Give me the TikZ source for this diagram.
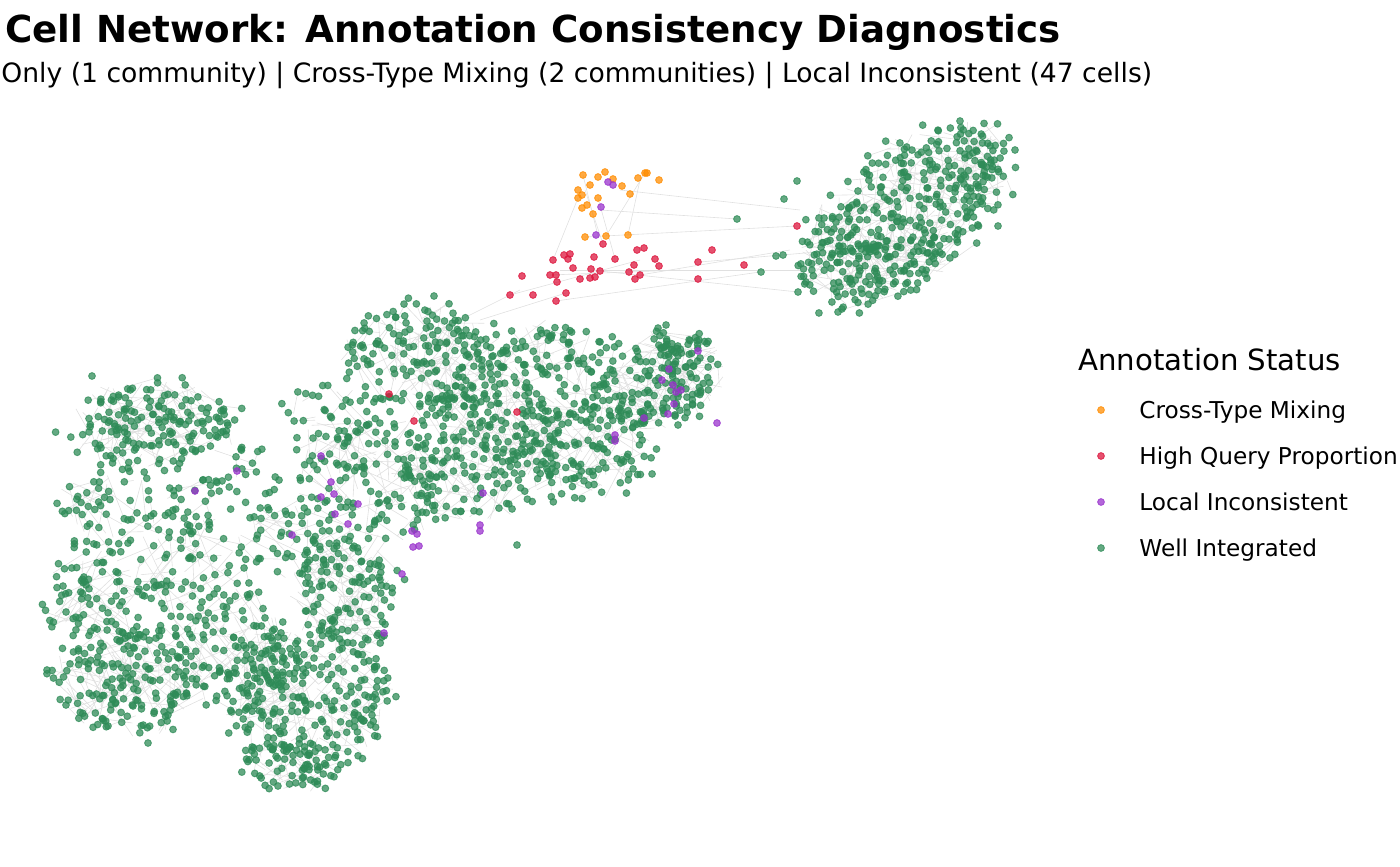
\documentclass[tikz,border=0pt]{standalone}
\usepackage{fontspec}
\setmainfont{DejaVu Sans}
\definecolor{cmix}{HTML}{FF8C00}
\definecolor{chqp}{HTML}{DC143C}
\definecolor{cloc}{HTML}{9932CC}
\definecolor{cwell}{HTML}{2E8B57}
\tikzset{
  edge/.style={draw=black!12, line width=0.3pt},
  cell/.style={fill=#1, draw=#1, line width=0.45pt, opacity=0.74},
  wi/.style={cell=cwell},
  mx/.style={cell=cmix},
  hq/.style={cell=chqp},
  li/.style={cell=cloc},
  legtxt/.style={anchor=base west, font=\fontsize{11.6pt}{13pt}\selectfont, inner sep=0pt},
}
% #7 = 0 : edges only, 1 : points only
\newcommand\blob[7]{%
  \foreach \i in {1,...,#6}{%
    \pgfmathsetmacro\bR{sqrt(rnd)*(0.8+0.36*rnd)}%
    \pgfmathsetmacro\bT{360*rnd}%
    \pgfmathsetmacro\bDX{\bR*#3*cos(\bT)}%
    \pgfmathsetmacro\bDY{\bR*#4*sin(\bT)}%
    \pgfmathsetmacro\bX{#1+\bDX*cos(#5)-\bDY*sin(#5)}%
    \pgfmathsetmacro\bY{#2+\bDX*sin(#5)+\bDY*cos(#5)}%
    \pgfmathsetmacro\bLX{\bDX+50*rand}%
    \pgfmathsetmacro\bLY{\bDY+50*rand}%
    \ifnum#7=0
      \pgfmathsetmacro\bIn{(\bLX/#3)^2+(\bLY/#4)^2}%
      \pgfmathsetmacro\bEX{#1+\bLX*cos(#5)-\bLY*sin(#5)}%
      \pgfmathsetmacro\bEY{#2+\bLX*sin(#5)+\bLY*cos(#5)}%
      \ifdim\bIn pt<1.1pt
        \draw[edge] (\bX,\bY) -- (\bEX,\bEY);
      \fi
    \else
      \path[wi] (\bX,\bY) circle[radius=1.7pt];
    \fi
  }%
}
\newcommand\allblobs[1]{%
% lower-left mass
\blob{152}{425}{88}{45}{0}{170}{#1}
\blob{110}{512}{55}{45}{0}{50}{#1}
\blob{200}{500}{40}{30}{0}{22}{#1}
\blob{240}{470}{40}{40}{0}{22}{#1}
\blob{95}{600}{48}{50}{0}{65}{#1}
\blob{180}{570}{70}{60}{0}{75}{#1}
\blob{132}{680}{76}{55}{0}{170}{#1}
\blob{230}{650}{70}{60}{0}{115}{#1}
\blob{310}{700}{85}{65}{0}{220}{#1}
\blob{290}{765}{50}{28}{0}{70}{#1}
\blob{345}{590}{55}{70}{0}{130}{#1}
\blob{290}{540}{50}{40}{0}{45}{#1}
% band
\blob{420}{360}{80}{60}{0}{170}{#1}
\blob{520}{400}{90}{70}{0}{170}{#1}
\blob{470}{460}{90}{60}{0}{140}{#1}
\blob{590}{450}{70}{50}{-20}{100}{#1}
\blob{662}{380}{65}{48}{-20}{180}{#1}
\blob{560}{350}{60}{30}{0}{45}{#1}
\blob{380}{480}{80}{60}{0}{110}{#1}
\blob{330}{430}{50}{50}{0}{40}{#1}
% top-right cluster
\blob{905}{215}{122}{66}{-38}{440}{#1}
}
\begin{document}
\begin{tikzpicture}[x=0.5pt,y=-0.5pt]
\useasboundingbox (0,0) rectangle (1400,866);
% titles
\node[anchor=base west, inner sep=0pt, font=\bfseries\fontsize{18.6pt}{21pt}\selectfont] (title) at (5,43) {Cell Network: Annotation Consistency Diagnostics};
\node[anchor=base west, inner sep=0pt, font=\fontsize{13.3pt}{15pt}\selectfont] (subtitle) at (1,83) {Only (1 community) | Cross-Type Mixing (2 communities) | Local Inconsistent (47 cells)};
% edges
\pgfmathsetseed{4242}
\allblobs{0}
\foreach \a/\b/\c/\d in {600/210/737/219, 585/237/797/226, 560/270/800/270, 640/275/790/250, 700/262/840/250, 620/190/800/210, 556/301/760/272, 600/271/798/292, 520/290/440/330, 566/293/480/320, 603/244/585/190, 628/235/640/180, 583/175/598/236, 645/173/606/236, 578/198/553/260, 598/198/615/259, 550/275/680/270, 510/295/640/260}
  \draw[edge] (\a,\b) -- (\c,\d);
% well integrated cells
\pgfmathsetseed{4242}
\allblobs{1}
\foreach \x/\y in {737/219, 784/199, 797/181, 776/256, 783/255, 761/272, 798/292, 92/376, 148/743, 434/296, 517/545, 1015/150, 998/226, 838/312, 960/121, 66/705, 47/670}
  \path[wi] (\x,\y) circle[radius=1.7pt];
% cross-type mixing
\foreach \x/\y in {583/175, 605/172, 598/177, 613/179, 638/178, 645/173, 647/173, 659/180, 590/185, 622/186, 578/190, 582/195, 578/198, 598/198, 630/194, 587/205, 582/208, 593/214, 585/237, 606/236, 628/235}
  \path[mx] (\x,\y) circle[radius=1.7pt];
% high query proportion
\foreach \x/\y in {603/244, 553/260, 564/255, 570/254, 568/259, 594/257, 615/259, 637/250, 644/248, 655/259, 659/266, 573/268, 591/269, 600/271, 634/265, 629/272, 550/275, 556/275, 557/282, 580/279, 590/278, 595/277, 640/275, 635/279, 566/293, 556/301, 698/262, 712/250, 698/279, 744/265, 797/226, 522/276, 510/295, 533/295, 389/394, 414/421, 517/412}
  \path[hq] (\x,\y) circle[radius=1.7pt];
% local inconsistent
\foreach \x/\y in {608/182, 613/185, 601/207, 596/235, 698/351, 669/369, 673/385, 681/390, 674/404, 668/414, 644/418, 717/423, 615/435, 615/441, 321/456, 331/482, 321/497, 334/494, 358/504, 335/514, 348/524, 292/535, 483/493, 480/525, 480/531, 412/531, 417/534, 413/547, 419/546, 402/574, 237/471, 195/491, 384/633, 676/392, 662/380}
  \path[li] (\x,\y) circle[radius=1.7pt];
% legend
\node[anchor=base west, inner sep=0pt, font=\fontsize{14.6pt}{16pt}\selectfont] (legtitle) at (1078,370) {Annotation Status};
\path[mx] (1101,410) circle[radius=1.7pt];
\path[hq] (1101,456) circle[radius=1.7pt];
\path[li] (1101,502) circle[radius=1.7pt];
\path[wi] (1101,548) circle[radius=1.7pt];
\node[legtxt] (leg1) at (1139,418) {Cross-Type Mixing};
\node[legtxt] (leg2) at (1139,464) {High Query Proportion};
\node[legtxt] (leg3) at (1139,510) {Local Inconsistent};
\node[legtxt] (leg4) at (1139,556) {Well Integrated};
\end{tikzpicture}
\end{document}
